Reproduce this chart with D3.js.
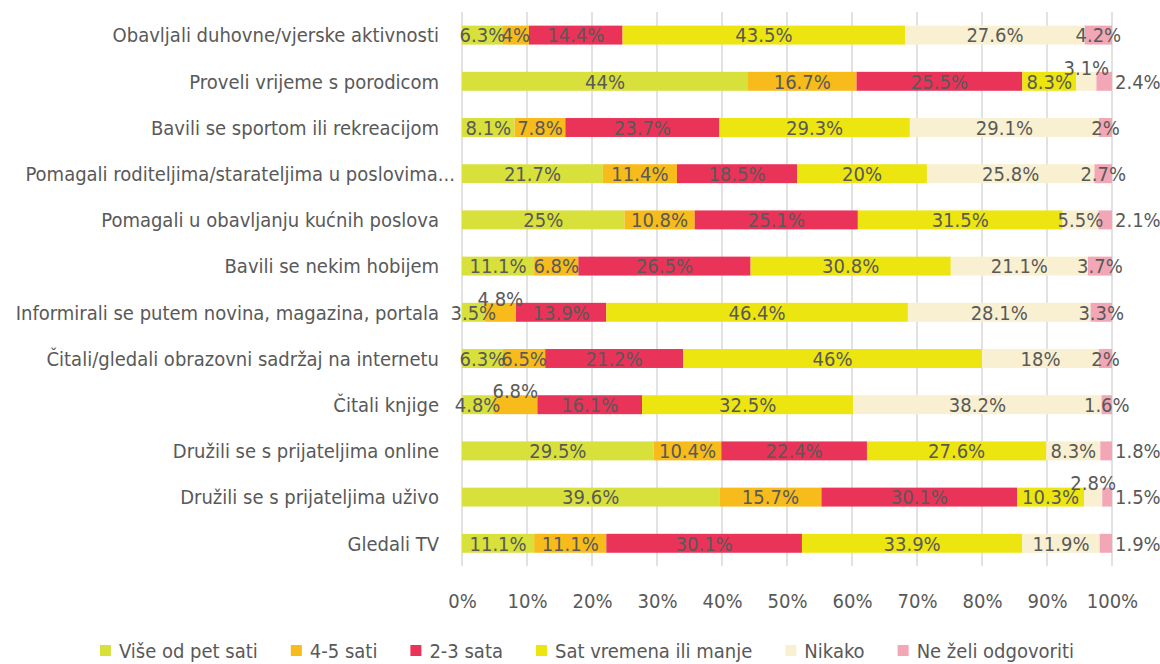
<!DOCTYPE html>
<html>
<head>
<meta charset="utf-8">
<script src="https://cdn.jsdelivr.net/npm/d3@7"></script>
<style>
  html, body { margin: 0; padding: 0; background: #fff; }
  svg text { font-family: "Liberation Sans Narrow", "DejaVu Sans Condensed", "Liberation Sans", sans-serif; fill: #595959; }
</style>
</head>
<body>
<svg id="chart" width="1160" height="664"></svg>
<script>
// Activities (top to bottom)
const categories = [
  "Obavljali duhovne/vjerske aktivnosti",
  "Proveli vrijeme s porodicom",
  "Bavili se sportom ili rekreacijom",
  "Pomagali roditeljima/starateljima u poslovima...",
  "Pomagali u obavljanju kućnih poslova",
  "Bavili se nekim hobijem",
  "Informirali se putem novina, magazina, portala",
  "Čitali/gledali obrazovni sadržaj na internetu",
  "Čitali knjige",
  "Družili se s prijateljima online",
  "Družili se s prijateljima uživo",
  "Gledali TV"
];

const seriesNames = ["Više od pet sati", "4-5 sati", "2-3 sata", "Sat vremena ili manje", "Nikako", "Ne želi odgovoriti"];

// Percentages per answer, in category order
const visePetSati   = [6.3, 44, 8.1, 21.7, 25, 11.1, 3.5, 6.3, 4.8, 29.5, 39.6, 11.1];
const cetiriPetSati = [4, 16.7, 7.8, 11.4, 10.8, 6.8, 4.8, 6.5, 6.8, 10.4, 15.7, 11.1];
const dvaTriSata    = [14.4, 25.5, 23.7, 18.5, 25.1, 26.5, 13.9, 21.2, 16.1, 22.4, 30.1, 30.1];
const satIliManje   = [43.5, 8.3, 29.3, 20, 31.5, 30.8, 46.4, 46, 32.5, 27.6, 10.3, 33.9];
const nikako        = [27.6, 3.1, 29.1, 25.8, 5.5, 21.1, 28.1, 18, 38.2, 8.3, 2.8, 11.9];
const neZeli        = [4.2, 2.4, 2, 2.7, 2.1, 3.7, 3.3, 2, 1.6, 1.8, 1.5, 1.9];

const tickValues = [0, 0.1, 0.2, 0.3, 0.4, 0.5, 0.6, 0.7, 0.8, 0.9, 1];
const tickLabels = ["0%", "10%", "20%", "30%", "40%", "50%", "60%", "70%", "80%", "90%", "100%"];

const seriesValues = [visePetSati, cetiriPetSati, dvaTriSata, satIliManje, nikako, neZeli];
const colors = ["#d8e03c", "#f7bb1b", "#ea3358", "#ede50f", "#f8f0d1", "#f3a6b6"];

// Labels of thin segments that sit outside their bar
const labelPlacement = {
  "1|4": "above", "1|5": "right",
  "4|5": "right",
  "6|1": "above",
  "8|1": "above",
  "9|5": "right",
  "10|4": "above", "10|5": "right",
  "11|5": "right"
};

const svg = d3.select("#chart");
const FS = 20;

const x = d3.scaleLinear().domain([0, 1]).range([462, 1112]);
const y = d3.scaleBand().domain(categories).range([12, 566.4])
  .paddingInner(0.59).paddingOuter(0.295);

// Build normalized stacked rows
const rows = categories.map((c, i) => {
  const obj = { category: c };
  seriesNames.forEach((s, k) => { obj[s] = seriesValues[k][i]; });
  return obj;
});
const totals = rows.map(r => d3.sum(seriesNames, s => r[s]));
const normRows = rows.map((r, i) => {
  const o = { category: r.category };
  seriesNames.forEach(s => { o[s] = r[s] / totals[i]; });
  return o;
});
const stacked = d3.stack().keys(seriesNames)(normRows);

// Vertical gridlines
svg.append("g")
  .selectAll("line")
  .data(tickValues)
  .join("line")
  .attr("x1", d => x(d)).attr("x2", d => x(d))
  .attr("y1", 12).attr("y2", 566)
  .attr("stroke", "#d9d9d9").attr("stroke-width", 1.5);

// Bars
const layers = svg.append("g")
  .selectAll("g")
  .data(stacked)
  .join("g")
  .attr("fill", (d, k) => colors[k]);

layers.selectAll("rect")
  .data(d => d.map(v => ({ v, key: d.key })))
  .join("rect")
  .attr("x", d => x(d.v[0]))
  .attr("width", d => x(d.v[1]) - x(d.v[0]))
  .attr("y", d => y(d.v.data.category))
  .attr("height", y.bandwidth());

// Value labels
const labelData = [];
stacked.forEach((layer, k) => {
  layer.forEach((v, i) => {
    const place = labelPlacement[i + "|" + k] || "center";
    labelData.push({ v, k, i, place, value: seriesValues[k][i] });
  });
});

svg.append("g")
  .selectAll("text")
  .data(labelData)
  .join("text")
  .attr("x", d => d.place === "right" ? x(1) + 3 : x((d.v[0] + d.v[1]) / 2))
  .attr("y", d => y(d.v.data.category) + y.bandwidth() / 2 + (d.place === "above" ? -14 : 0))
  .attr("dy", "0.36em")
  .attr("text-anchor", d => d.place === "right" ? "start" : "middle")
  .attr("font-size", FS)
  .text(d => d.value + "%");

// Category axis labels (a truncated label lets its ellipsis hang past the edge)
svg.append("g")
  .selectAll("text")
  .data(categories)
  .join("text")
  .attr("x", d => d.endsWith("...") ? 455 : 439)
  .attr("y", d => y(d) + y.bandwidth() / 2)
  .attr("dy", "0.36em")
  .attr("text-anchor", "end")
  .attr("font-size", FS)
  .text(d => d);

// Percentage axis
const xAxis = d3.axisBottom(x).tickValues(tickValues)
  .tickFormat((d, i) => tickLabels[i]).tickSize(0).tickPadding(0);
const axisG = svg.append("g").attr("transform", "translate(0,593)").call(xAxis);
axisG.select(".domain").remove();
axisG.selectAll("text")
  .attr("font-size", FS)
  .attr("dy", "0.36em")
  .attr("y", 8)
  .style("fill", "#595959")
  .attr("font-family", null);

// Legend
const legend = svg.append("g");
const items = legend.selectAll("g").data(seriesNames).join("g");
items.append("rect").attr("width", 11).attr("height", 11).attr("y", -6)
  .attr("fill", (d, k) => colors[k]);
items.append("text").attr("x", 19).attr("dy", "0.36em")
  .attr("font-size", FS).text(d => d);
const widths = [];
items.each(function () { widths.push(this.getBBox().width); });
const gap = 33;
const totalW = d3.sum(widths) + gap * (widths.length - 1);
let cx = 587 - totalW / 2;
items.attr("transform", (d, k) => {
  const t = `translate(${cx},651)`;
  cx += widths[k] + gap;
  return t;
});
</script>
</body>
</html>
